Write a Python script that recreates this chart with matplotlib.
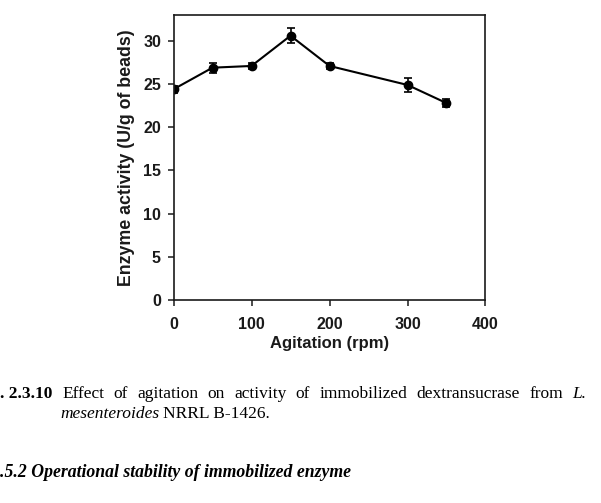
import numpy as np
import matplotlib
matplotlib.use("Agg")
import matplotlib.pyplot as plt

# data
agitation = [0, 50, 100, 150, 200, 300, 350]
activity = [24.4, 26.9, 27.1, 30.6, 27.1, 24.9, 22.8]
activity_err = [0.4, 0.6, 0.3, 0.9, 0.35, 0.8, 0.5]

x_ticks = [0, 100, 200, 300, 400]
y_ticks = [0, 5, 10, 15, 20, 25, 30]

caption_words = ["Effect", "of", "agitation", "on", "activity", "of", "immobilized",
                 "dextransucrase", "from", "L."]

W, H = 601, 503
fig = plt.figure(figsize=(W / 100, H / 100), dpi=100)
fig.patch.set_facecolor("white")

ax = fig.add_axes([173.5 / W, 1 - 300 / H, (485.5 - 173.5) / W, (300 - 15) / H])
ax.errorbar(agitation, activity, yerr=activity_err, color="black", lw=1.5,
            marker="o", ms=6, capsize=3.2, elinewidth=1.2, capthick=1.2)

ax.set_xlim(0, 400)
ax.set_ylim(0, 33)
ax.set_xticks(x_ticks)
ax.set_yticks(y_ticks)

sans = "Liberation Sans"
for lab in ax.get_xticklabels() + ax.get_yticklabels():
    lab.set_fontfamily(sans)
    lab.set_fontweight("bold")
    lab.set_fontsize(11.5)
    lab.set_color("#1a1a1a")
ax.tick_params(direction="out", length=4, width=1.1, colors="#1a1a1a")
ax.tick_params(axis="x", pad=8)
ax.tick_params(axis="y", pad=5)
for sp in ax.spines.values():
    sp.set_linewidth(1.2)
    sp.set_color("#1a1a1a")

ax.set_xlabel("Agitation (rpm)", fontfamily=sans, fontweight="bold", fontsize=12,
              color="#1a1a1a", labelpad=3)
ax.set_ylabel("Enzyme activity (U/g of beads)", fontfamily=sans, fontweight="bold",
              fontsize=12.8, color="#1a1a1a", labelpad=6)

# caption below the chart (justified first line)
serif = "Liberation Serif"
fs = 12.5
fig.text(0 / W, 1 - 398 / H, ". 2.3.10", fontfamily=serif, fontweight="bold",
         fontsize=fs, va="baseline", ha="left")

renderer = fig.canvas.get_renderer()
x0, x1 = 62 / W, 586 / W
texts = []
for w in caption_words:
    style = "italic" if w == "L." else "normal"
    texts.append(fig.text(0, 1 - 398 / H, w, fontfamily=serif, fontsize=fs,
                          fontstyle=style, va="baseline", ha="left"))
widths = [t.get_window_extent(renderer).width / W for t in texts]
gap = (x1 - x0 - sum(widths)) / (len(texts) - 1)
xp = x0
for t, wd in zip(texts, widths):
    t.set_x(xp)
    xp += wd + gap

t2 = fig.text(60 / W, 1 - 418 / H, "mesenteroides", fontfamily=serif, fontsize=fs,
              fontstyle="italic", va="baseline", ha="left")
w2 = t2.get_window_extent(renderer).width / W
fig.text(60 / W + w2 + 4 / W, 1 - 418 / H, "NRRL B-1426.", fontfamily=serif,
         fontsize=fs, va="baseline", ha="left")

fig.text(0 / W, 1 - 477 / H, ".5.2 Operational stability of immobilized enzyme",
         fontfamily=serif, fontsize=12.8, fontweight="bold", fontstyle="italic",
         va="baseline", ha="left")

fig.savefig("out.png", dpi=100)
